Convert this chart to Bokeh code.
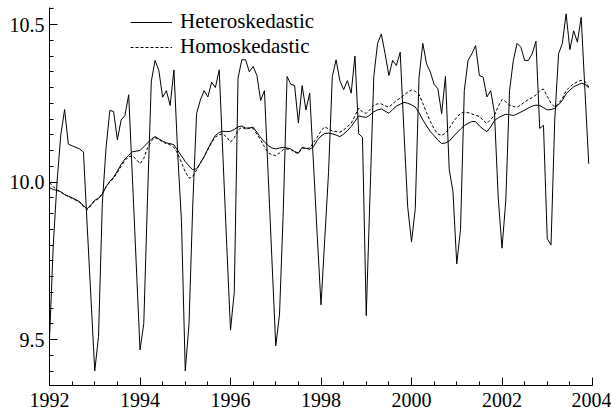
from bokeh.plotting import figure
from bokeh.models import (Range1d, Legend, LegendItem, SingleIntervalTicker,
                          PrintfTickFormatter)
from bokeh.embed import file_html
from bokeh.resources import INLINE

years = list(range(1992, 2004))
months = list(range(12))

# Monthly series, Jan..Dec of each year 1992-2003
heteroskedastic = [
    9.50, 9.80, 10.00, 10.15, 10.23, 10.12, 10.115, 10.11, 10.105, 10.095, 9.86, 9.63,
    9.40, 9.51, 9.93, 10.11, 10.227, 10.224, 10.134, 10.197, 10.211, 10.277, 10.01, 9.74,
    9.467, 9.55, 9.95, 10.32, 10.386, 10.354, 10.269, 10.29, 10.243, 10.356, 10.09, 9.875,
    9.40, 9.55, 9.93, 10.217, 10.26, 10.29, 10.27, 10.317, 10.30, 10.356, 10.08, 9.80,
    9.53, 9.65, 10.33, 10.388, 10.388, 10.35, 10.367, 10.338, 10.259, 10.29, 10.02, 9.75,
    9.48, 9.58, 9.91, 10.335, 10.31, 10.306, 10.187, 10.306, 10.229, 10.282, 10.06, 9.83,
    9.61, 9.82, 10.03, 10.335, 10.388, 10.322, 10.293, 10.322, 10.282, 10.40, 10.153, 10.142,
    9.576, 9.96, 10.335, 10.44, 10.47, 10.407, 10.338, 10.386, 10.37, 10.412, 10.16, 9.92,
    9.81, 9.915, 10.333, 10.44, 10.375, 10.349, 10.31, 10.296, 10.217, 10.335, 10.04, 9.97,
    9.74, 9.85, 10.29, 10.386, 10.407, 10.433, 10.338, 10.333, 10.27, 10.29, 10.22, 9.95,
    9.79, 9.94, 10.29, 10.386, 10.44, 10.428, 10.386, 10.386, 10.407, 10.447, 10.17, 10.18,
    9.82, 9.80, 10.20, 10.407, 10.44, 10.534, 10.42, 10.48, 10.444, 10.523, 10.29, 10.058,
]

hetero_trend = [
    9.982, 9.976, 9.973, 9.969, 9.960, 9.955, 9.950, 9.944, 9.937, 9.925, 9.915, 9.928,
    9.942, 9.948, 9.962, 9.985, 10.002, 10.015, 10.035, 10.056, 10.073, 10.085, 10.096, 10.098,
    10.100, 10.112, 10.124, 10.136, 10.144, 10.137, 10.130, 10.124, 10.122, 10.118, 10.100, 10.083,
    10.065, 10.051, 10.039, 10.042, 10.060, 10.080, 10.105, 10.128, 10.148, 10.157, 10.161, 10.160,
    10.161, 10.167, 10.175, 10.178, 10.171, 10.172, 10.174, 10.158, 10.141, 10.127, 10.116, 10.108,
    10.105, 10.108, 10.110, 10.108, 10.105, 10.097, 10.092, 10.110, 10.107, 10.104, 10.112, 10.132,
    10.146, 10.154, 10.155, 10.153, 10.149, 10.144, 10.152, 10.163, 10.176, 10.193, 10.210, 10.207,
    10.205, 10.213, 10.223, 10.229, 10.232, 10.225, 10.218, 10.230, 10.241, 10.247, 10.253, 10.250,
    10.245, 10.238, 10.220, 10.197, 10.178, 10.160, 10.147, 10.133, 10.122, 10.124, 10.130, 10.143,
    10.156, 10.168, 10.179, 10.186, 10.192, 10.192, 10.178, 10.168, 10.160, 10.175, 10.195, 10.204,
    10.210, 10.215, 10.214, 10.211, 10.216, 10.222, 10.228, 10.235, 10.241, 10.244, 10.243, 10.236,
    10.229, 10.230, 10.234, 10.245, 10.259, 10.280, 10.292, 10.302, 10.308, 10.313, 10.311, 10.298,
]

homoskedastic = [
    9.998, 9.985, 9.975, 9.968, 9.960, 9.954, 9.948, 9.942, 9.935, 9.922, 9.912, 9.925,
    9.940, 9.948, 9.962, 9.985, 10.000, 10.012, 10.030, 10.050, 10.068, 10.080, 10.083, 10.072,
    10.058, 10.075, 10.108, 10.130, 10.141, 10.135, 10.127, 10.122, 10.118, 10.110, 10.090, 10.062,
    10.032, 10.012, 10.018, 10.038, 10.060, 10.080, 10.103, 10.125, 10.143, 10.150, 10.153, 10.142,
    10.127, 10.140, 10.165, 10.174, 10.168, 10.170, 10.170, 10.152, 10.133, 10.112, 10.093, 10.086,
    10.084, 10.092, 10.103, 10.105, 10.103, 10.095, 10.090, 10.108, 10.106, 10.108, 10.125, 10.142,
    10.162, 10.176, 10.168, 10.162, 10.160, 10.158, 10.165, 10.176, 10.186, 10.210, 10.235, 10.222,
    10.218, 10.230, 10.245, 10.248, 10.248, 10.242, 10.238, 10.248, 10.259, 10.266, 10.276, 10.285,
    10.292, 10.288, 10.278, 10.250, 10.220, 10.192, 10.168, 10.152, 10.148, 10.155, 10.170, 10.190,
    10.205, 10.218, 10.222, 10.220, 10.216, 10.212, 10.208, 10.196, 10.186, 10.198, 10.212, 10.240,
    10.262, 10.255, 10.244, 10.240, 10.237, 10.245, 10.254, 10.262, 10.268, 10.276, 10.290, 10.295,
    10.272, 10.250, 10.238, 10.250, 10.265, 10.290, 10.302, 10.312, 10.318, 10.323, 10.320, 10.302,
]

legend_labels = ["Heteroskedastic", "Homoskedastic"]

t = [y + m / 12.0 for y in years for m in months]

FONT = "Liberation Serif"

p = figure(width=611, height=412, output_backend="svg", toolbar_location=None,
           x_range=Range1d(1992, 2004), y_range=Range1d(9.354, 10.554),
           min_border_left=49, min_border_right=19, min_border_top=7,
           min_border_bottom=27)
p.xgrid.visible = False
p.ygrid.visible = False
p.outline_line_color = None
p.background_fill_color = "white"
p.border_fill_color = "white"

p.xaxis.ticker = SingleIntervalTicker(interval=2, num_minor_ticks=4)
p.yaxis.ticker = SingleIntervalTicker(interval=0.5, num_minor_ticks=10)
p.xaxis.formatter = PrintfTickFormatter(format="%d")
p.yaxis.formatter = PrintfTickFormatter(format="%.1f")

for ax in (p.xaxis[0], p.yaxis[0]):
    ax.axis_line_color = "black"
    ax.axis_line_width = 1
    ax.major_tick_line_color = "black"
    ax.minor_tick_line_color = "black"
    ax.major_tick_in = 8
    ax.major_tick_out = 0
    ax.minor_tick_in = 4
    ax.minor_tick_out = 0
    ax.major_label_text_font = FONT
    ax.major_label_text_font_size = "20px"
    ax.major_label_text_color = "black"
p.xaxis[0].major_label_standoff = 7
p.xaxis[0].major_label_text_line_height = 0.95
p.yaxis[0].major_label_standoff = 5

r_trend = p.line(t, hetero_trend, line_color="black", line_width=1)
r_homo = p.line(t, homoskedastic, line_color="black", line_width=1, line_dash="3 2")
r_het = p.line(t, heteroskedastic, line_color="black", line_width=1)

legend = Legend(items=[LegendItem(label=legend_labels[0], renderers=[r_het]),
                       LegendItem(label=legend_labels[1], renderers=[r_homo])],
                location=(81, 326))
legend.border_line_color = None
legend.background_fill_alpha = 0
legend.padding = 0
legend.margin = 0
legend.spacing = 0
legend.glyph_width = 42
legend.glyph_height = 22
legend.label_height = 22
legend.label_standoff = 8
legend.label_text_font = FONT
legend.label_text_font_size = "21px"
legend.label_text_color = "black"
p.add_layout(legend)

open("out.html", "w").write(file_html(p, INLINE))
